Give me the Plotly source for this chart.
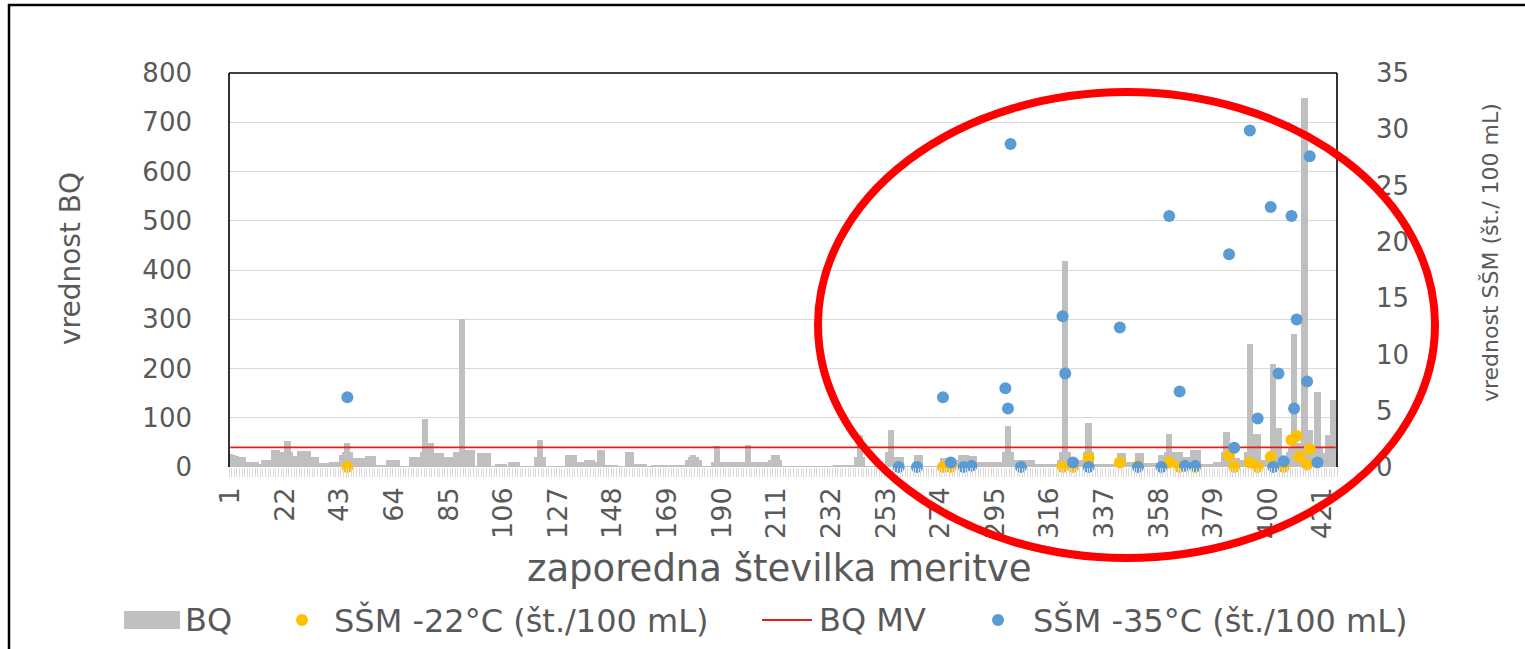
import plotly.graph_objects as go

# ---------------- data ----------------
N = 426
measurements = list(range(1, N + 1))

bq_rows = [
    [26, 24, 22, 20, 20, 20, 11, 11, 11, 11],      # 1-10
    [11, 7, 7, 14, 14, 14, 14, 35, 35, 30],        # 11-20
    [14, 30, 53, 30, 14, 23, 23, 32, 32, 32],      # 21-30
    [32, 21, 21, 21, 9, 9, 9, 9, 9, 11],           # 31-40
    [11, 11, 11, 25, 30, 48, 30, 19, 19, 19],      # 41-50
    [19, 19, 11, 23, 23, 23, 4, 4, 4, 4],          # 51-60
    [4, 14, 14, 14, 14, 2, 2, 2, 2, 2],            # 61-70
    [21, 21, 21, 21, 30, 97, 48, 48, 28, 28],      # 71-80
    [28, 28, 21, 21, 21, 21, 21, 30, 30, 300],     # 81-90
    [35, 35, 35, 35, 2, 2, 28, 28, 28, 28],        # 91-100
    [2, 2, 2, 6, 6, 6, 2, 2, 11, 11],              # 101-110
    [11, 2, 2, 2, 2, 2, 2, 2, 20, 55],             # 111-120
    [20, 2, 2, 2, 2, 2, 2, 2, 2, 2],               # 121-130
    [24, 24, 24, 11, 11, 11, 11, 14, 14, 14],      # 131-140
    [11, 11, 35, 35, 4, 4, 4, 4, 4, 1],            # 141-150
    [1, 1, 1, 30, 30, 6, 6, 6, 6, 6],              # 151-160
    [1, 1, 1, 4, 4, 4, 4, 4, 1, 1],                # 161-170
    [4, 4, 4, 4, 4, 4, 15, 20, 24, 20],            # 171-180
    [15, 2, 2, 2, 2, 2, 11, 43, 11, 11],           # 181-190
    [11, 11, 11, 11, 11, 11, 11, 11, 11, 45],      # 191-200
    [11, 11, 11, 11, 11, 11, 11, 11, 15, 24],      # 201-210
    [24, 15, 2, 2, 2, 2, 2, 1, 1, 1],              # 211-220
    [1, 1, 1, 1, 1, 1, 1, 1, 1, 1],                # 221-230
    [1, 1, 1, 5, 5, 5, 5, 5, 5, 5],                # 231-240
    [5, 20, 65, 20, 2, 2, 2, 2, 2, 2],             # 241-250
    [2, 2, 2, 30, 76, 20, 20, 20, 20, 2],          # 251-260
    [2, 2, 2, 2, 24, 24, 2, 2, 2, 2],              # 261-270
    [2, 2, 2, 2, 19, 19, 11, 11, 14, 14],          # 271-280
    [14, 24, 24, 24, 23, 23, 23, 11, 11, 11],      # 281-290
    [11, 11, 11, 11, 11, 11, 11, 11, 30, 83],      # 291-300
    [30, 14, 15, 15, 15, 15, 15, 15, 15, 6],       # 301-310
    [6, 6, 6, 6, 6, 6, 6, 6, 6, 14],               # 311-320
    [30, 418, 30, 14, 14, 14, 14, 14, 14, 30],     # 321-330
    [90, 30, 6, 6, 6, 6, 6, 6, 6, 6],              # 331-340
    [6, 6, 29, 29, 11, 11, 11, 11, 11, 28],        # 341-350
    [28, 9, 9, 9, 9, 9, 9, 9, 24, 24],             # 351-360
    [30, 67, 31, 31, 31, 31, 21, 21, 21, 21],      # 361-370
    [35, 35, 35, 6, 6, 6, 6, 6, 6, 11],            # 371-380
    [11, 11, 30, 72, 30, 18, 18, 18, 14, 14],      # 381-390
    [14, 30, 250, 67, 67, 67, 14, 14, 14, 14],     # 391-400
    [30, 210, 30, 80, 21, 21, 21, 30, 40, 270],    # 401-410
    [48, 48, 48, 750, 75, 75, 30, 40, 152, 40],    # 411-420
    [28, 28, 65, 40, 136, 30],                     # 421-426
]
bq = [v for row in bq_rows for v in row]
bq_mv = 40

x_tick_labels = list(range(1, 422, 21))
left_ticks = list(range(0, 801, 100))
right_ticks = list(range(0, 36, 5))

ssm22_idx = [46, 275, 278, 321, 325, 331, 343, 350, 362, 366, 372, 385, 387,
             393, 396, 401, 406, 409, 411, 412, 415, 416]
ssm22_val = [0, 0, 0, 0, 0, 0.8, 0.4, 0.1, 0.4, 0, 0, 1.0, 0,
             0.4, 0, 0.9, 0, 2.4, 2.75, 0.9, 0.2, 1.6]

ssm35_idx = [46, 258, 265, 275, 278, 283, 286, 299, 300, 301, 305, 321, 322,
             325, 331, 343, 350, 359, 362, 366, 368, 372, 385, 387, 393, 396,
             401, 402, 404, 406, 409, 410, 411, 415, 416, 419]
ssm35_val = [6.2, 0, 0, 6.2, 0.4, 0, 0.1, 7.0, 5.2, 28.7, 0, 13.4, 8.3,
             0.4, 0, 12.4, 0, 0, 22.3, 6.7, 0.1, 0.1, 18.9, 1.7, 29.9, 4.3,
             23.1, 0, 8.3, 0.5, 22.3, 5.2, 13.1, 7.6, 27.6, 0.4]

# ---------------- style ----------------
GRAY = "#bfbfbf"
YELLOW = "#ffc000"
BLUE = "#5b9bd5"
MVRED = "#e0201b"
TXT = "#595959"
FONT = "DejaVu Sans"

W, H = 1525, 649
L, R, T, B = 229, 1337, 73, 467


def px(x):
    return (x - L) / (R - L)


def py(y):
    return (B - y) / (B - T)


fig = go.Figure()
fig.add_trace(go.Bar(x=measurements, y=bq, width=2.4, marker=dict(color=GRAY, line=dict(width=0)),
                     name="BQ", yaxis="y", showlegend=False))
fig.add_trace(go.Scatter(x=measurements, y=[bq_mv] * N, mode="lines",
                         line=dict(color=MVRED, width=1.8), name="BQ MV", showlegend=False))
fig.add_trace(go.Scatter(x=ssm22_idx, y=ssm22_val, mode="markers", yaxis="y2",
                         marker=dict(color=YELLOW, size=12), cliponaxis=False,
                         name="SŠM -22°C (št./100 mL)", showlegend=False))
fig.add_trace(go.Scatter(x=ssm35_idx, y=ssm35_val, mode="markers", yaxis="y2",
                         marker=dict(color=BLUE, size=12), cliponaxis=False,
                         name="SŠM -35°C (št./100 mL)", showlegend=False))
# helper axis carrying the dense category tick marks
fig.add_trace(go.Scatter(x=[], y=[], xaxis="x2", showlegend=False, hoverinfo="skip"))

tickfont = dict(family=FONT, size=26, color=TXT)

fig.update_layout(
    width=W, height=H, autosize=False,
    margin=dict(l=L, r=W - R, t=T, b=H - B, pad=0),
    paper_bgcolor="white", plot_bgcolor="white",
    barmode="overlay", bargap=0,
    showlegend=False,
    xaxis=dict(range=[0.5, N + 0.5], tickmode="array", tickvals=x_tick_labels,
               ticktext=[str(v) for v in x_tick_labels], tickangle=-90,
               ticks="", showgrid=False, zeroline=False, showline=False,
               tickfont=dict(family=FONT, size=27, color=TXT), ticklabelstandoff=14),
    xaxis2=dict(range=[0.5, N + 0.5], overlaying="x", anchor="y", side="bottom",
                tickmode="linear", tick0=0.5, dtick=1, ticks="outside", ticklen=9,
                tickwidth=1, tickcolor="#d9d9d9", showticklabels=False,
                showgrid=False, zeroline=False, showline=False),
    yaxis=dict(range=[0, 800], tickmode="array", tickvals=left_ticks,
               showgrid=True, gridcolor="#d9d9d9", gridwidth=1, zeroline=False,
               ticks="", tickfont=tickfont, ticklabelstandoff=36),
    yaxis2=dict(range=[0, 35], tickmode="array", tickvals=right_ticks,
                overlaying="y", side="right", showgrid=False, zeroline=False,
                ticks="", tickfont=tickfont, ticklabelstandoff=38),
)

shapes = [
    # plot area frame (top, left, right)
    dict(type="line", xref="paper", yref="paper", x0=0, x1=0, y0=0, y1=1,
         line=dict(color="black", width=1.6), layer="above"),
    dict(type="line", xref="paper", yref="paper", x0=0, x1=1, y0=1, y1=1,
         line=dict(color="black", width=1.6), layer="above"),
    dict(type="line", xref="paper", yref="paper", x0=1, x1=1, y0=0, y1=1,
         line=dict(color="black", width=1.6), layer="above"),
    # outer chart border
    dict(type="rect", xref="paper", yref="paper", x0=px(9), x1=px(1545), y0=py(670), y1=py(5),
         line=dict(color="black", width=2.5), layer="above"),
    # legend symbols
    dict(type="rect", xref="paper", yref="paper", x0=px(124), x1=px(180), y0=py(629), y1=py(611),
         fillcolor=GRAY, line=dict(width=0)),
    dict(type="circle", xref="paper", yref="paper", x0=px(296), x1=px(308), y0=py(626), y1=py(614),
         fillcolor=YELLOW, line=dict(width=0)),
    dict(type="line", xref="paper", yref="paper", x0=px(762), x1=px(812), y0=py(620), y1=py(620),
         line=dict(color=MVRED, width=2)),
    dict(type="circle", xref="paper", yref="paper", x0=px(992), x1=px(1004), y0=py(626), y1=py(614),
         fillcolor=BLUE, line=dict(width=0)),
    # red highlight ellipse
    dict(type="circle", xref="paper", yref="paper", x0=px(818), x1=px(1435), y0=py(558), y1=py(92),
         line=dict(color="#ff0000", width=8), layer="above"),
]


def ann(text, x, y, size, angle=0, xanchor="center"):
    return dict(text=text, x=px(x), y=py(y), textangle=angle, showarrow=False,
                xref="paper", yref="paper", xanchor=xanchor, yanchor="middle",
                font=dict(family=FONT, size=size, color=TXT))


annotations = [
    ann("vrednost BQ", 70, 258, 28, angle=-90),
    ann("vrednost SŠM (št./ 100 mL)", 1490, 253, 22, angle=-90),
    ann("zaporedna številka meritve", 779, 568, 37),
    ann("BQ", 183, 620, 32, xanchor="left"),
    ann("SŠM -22°C (št./100 mL)", 332, 620, 32, xanchor="left"),
    ann("BQ MV", 817, 620, 32, xanchor="left"),
    ann("SŠM -35°C (št./100 mL)", 1031, 620, 32, xanchor="left"),
]

fig.update_layout(shapes=shapes, annotations=annotations)

fig.write_html("out.html", config={"displayModeBar": False},
               post_script="document.body.style.margin='0';document.body.style.overflow='hidden';")
